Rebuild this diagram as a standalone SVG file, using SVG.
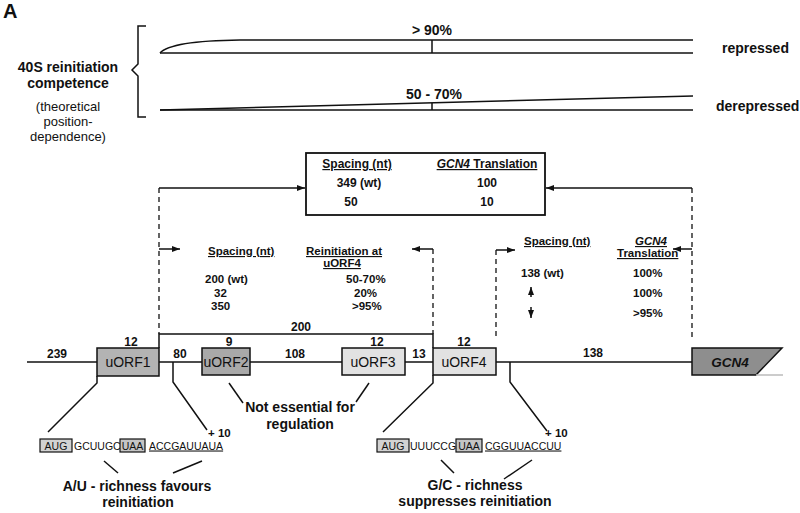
<svg xmlns="http://www.w3.org/2000/svg" width="800" height="513" viewBox="0 0 800 513">
<defs>
<style>
text{font-family:"Liberation Sans",Arial,sans-serif;fill:#111}
.b{font-weight:bold}
.u{text-decoration:underline}
.i{font-style:italic}
.ln{stroke:#111;stroke-width:1.5;fill:none}
.ds{stroke:#111;stroke-width:1.3;stroke-dasharray:5 4;fill:none}
.n12{font-size:12px;font-weight:bold}
.n11{font-size:11.5px;font-weight:bold}
.lbl{font-size:14px;font-weight:bold}
.orf{font-size:14px;text-anchor:middle}
.seq{font-size:10.5px}
.m{text-anchor:middle}
</style>
<marker id="ah" markerUnits="userSpaceOnUse" markerWidth="9" markerHeight="7" refX="8" refY="3" orient="auto">
<path d="M0,0 L8,3 L0,6 z" fill="#111"/>
</marker>
</defs>
<rect width="800" height="513" fill="#fff"/>
<text x="3" y="18" class="b" font-size="20">A</text>

<g id="competence">
<path class="ln" d="M146,26 L138,26 L138,64 L132,70 L138,76 L138,117 L146,117"/>
<text x="68" y="72" class="lbl m">40S reinitiation</text>
<text x="68" y="88" class="lbl m">competence</text>
<text x="68" y="111" font-size="13" class="m">(theoretical</text>
<text x="68" y="126" font-size="13" class="m">position-</text>
<text x="68" y="141" font-size="13" class="m">dependence)</text>
</g>

<g id="repressed">
<path class="ln" d="M160,53 C168,44 200,40.5 240,40 L693,40"/>
<path class="ln" d="M160,53 L693,53"/>
<path class="ln" d="M432,40 L432,53"/>
<text x="432" y="35" class="lbl m">&gt; 90%</text>
<text x="722" y="53" class="lbl">repressed</text>
</g>

<g id="derepressed">
<path class="ln" d="M160,110 L693,96"/>
<path class="ln" d="M160,110 L693,110"/>
<path class="ln" d="M432,103 L432,110"/>
<text x="434" y="99" class="lbl m">50 - 70%</text>
<text x="716" y="111" class="lbl">derepressed</text>
</g>

<g id="summary-box">
<rect x="306" y="153" width="239" height="62" fill="#fff" stroke="#111" stroke-width="1.8"/>
<text x="357" y="168" class="n12 m u">Spacing (nt)</text>
<text x="487" y="168" class="n12 m u"><tspan class="i">GCN4</tspan> Translation</text>
<text x="359" y="187" class="n12 m">349 (wt)</text>
<text x="487" y="187" class="n12 m">100</text>
<text x="351" y="206" class="n12 m">50</text>
<text x="487" y="206" class="n12 m">10</text>
</g>

<g id="table-uorf4">
<text x="208" y="255" class="n11 u">Spacing (nt)</text>
<text x="306" y="255" class="n11 u">Reinitiation at</text>
<text x="342" y="267" class="n11 u m">uORF4</text>
<text x="205" y="283" class="n11">200 (wt)</text>
<text x="214" y="297" class="n11">32</text>
<text x="211" y="310" class="n11">350</text>
<text x="346" y="283" class="n11">50-70%</text>
<text x="354" y="297" class="n11">20%</text>
<text x="352" y="310" class="n11">&gt;95%</text>
</g>

<g id="table-gcn4">
<text x="524" y="245" class="n11 u">Spacing (nt)</text>
<text x="651" y="245" class="n11 u i m">GCN4</text>
<text x="617" y="257" class="n11 u">Translation</text>
<text x="521" y="277" class="n11">138 (wt)</text>
<text x="633" y="277" class="n11">100%</text>
<text x="633" y="297" class="n11">100%</text>
<text x="633" y="317" class="n11">&gt;95%</text>
</g>

<g id="connectors">
<path class="ds" d="M159,188 L159,334"/>
<path class="ln" d="M159,188 L305,188" marker-end="url(#ah)"/>
<path class="ln" d="M159,249 L180,249" marker-end="url(#ah)"/>
<path class="ds" d="M433,249 L433,334"/>
<path class="ln" d="M433,249 L412,249" marker-end="url(#ah)"/>
<path class="ds" d="M692,188 L692,338"/>
<path class="ln" d="M692,188 L546,188" marker-end="url(#ah)"/>
<path class="ln" d="M692,249 L673,249" marker-end="url(#ah)"/>
<path class="ds" d="M496,250 L496,338"/>
<path class="ln" d="M496,250 L515,250" marker-end="url(#ah)"/>
<path class="ln" d="M531,297 L531,287" marker-end="url(#ah)"/>
<path class="ln" d="M531,307 L531,318" marker-end="url(#ah)"/>
<path class="ln" d="M159,348 L159,334 L433,334 L433,348"/>
<path class="ln" d="M27,362 L692,362"/>
<path class="ln" d="M97,376 L97,383 L48,432"/>
<path class="ln" d="M173,362 L173,382 L207,430"/>
<path class="ln" d="M229,383 L243,403"/>
<path class="ln" d="M369,383 L356,402"/>
<path class="ln" d="M433,375 L433,383 L383,432"/>
<path class="ln" d="M510,362 L510,382 L547,431"/>
<path class="ln" d="M104,461 L118,473"/>
<path class="ln" d="M202,461 L173,473"/>
<path class="ln" d="M441,460 L454,473"/>
<path class="ln" d="M532,460 L504,479"/>
</g>

<g id="labels-spacing">
<text x="301" y="331" class="n12 m">200</text>
<text x="57" y="358" class="n12 m">239</text>
<text x="180" y="358" class="n12 m">80</text>
<text x="295" y="358" class="n12 m">108</text>
<text x="419" y="358" class="n12 m">13</text>
<text x="593" y="357" class="n12 m">138</text>
</g>

<g id="uORF1">
<rect x="97" y="348" width="62" height="28" fill="#b3b3b3" stroke="#111" stroke-width="1.5"/>
<text x="128" y="367" class="orf">uORF1</text>
<text x="131" y="346" class="n12 m">12</text>
</g>
<g id="uORF2">
<rect x="202" y="348" width="48" height="27" fill="#a9a9a9" stroke="#111" stroke-width="1.5"/>
<text x="226" y="367" class="orf">uORF2</text>
<text x="229" y="346" class="n12 m">9</text>
</g>
<g id="uORF3">
<rect x="342" y="348" width="63" height="27" fill="#e2e2e2" stroke="#111" stroke-width="1.5"/>
<text x="373" y="367" class="orf">uORF3</text>
<text x="377" y="346" class="n12 m">12</text>
</g>
<g id="uORF4">
<rect x="433" y="348" width="63" height="27" fill="#e2e2e2" stroke="#111" stroke-width="1.5"/>
<text x="464" y="367" class="orf">uORF4</text>
<text x="464" y="346" class="n12 m">12</text>
</g>
<g id="GCN4">
<polygon points="692,348 782,348 756,375 692,375" fill="#8e8e8e" stroke="#111" stroke-width="1.5"/>
<path d="M756,375 L783,375" stroke="#bbb" stroke-width="1.5"/>
<text x="730" y="367" class="m b i" font-size="13.5">GCN4</text>
</g>

<g id="note-uorf23">
<text x="300" y="412" class="lbl m">Not essential for</text>
<text x="300" y="429" class="lbl m">regulation</text>
</g>

<g id="seq-uorf1">
<text x="208" y="437" class="b" font-size="11.5">+ 10</text>
<rect x="40" y="439" width="32" height="13" fill="#d2d2d2" stroke="#111" stroke-width="1.2"/>
<text x="56" y="449.5" class="seq m">AUG</text>
<text x="74" y="449.5" class="seq">GCUUGC</text>
<rect x="120" y="439" width="25" height="13" fill="#c4c4c4" stroke="#111" stroke-width="1.2"/>
<text x="132.5" y="449.5" class="seq m">UAA</text>
<text x="149" y="449.5" class="seq u">ACCGAUUAUA</text>
<text x="137" y="491" class="lbl m">A/U - richness favours</text>
<text x="138" y="507" class="lbl m">reinitiation</text>
</g>

<g id="seq-uorf4">
<text x="545" y="437" class="b" font-size="11.5">+ 10</text>
<rect x="377" y="439" width="32" height="13" fill="#d2d2d2" stroke="#111" stroke-width="1.2"/>
<text x="393" y="449.5" class="seq m">AUG</text>
<text x="410" y="449.5" class="seq">UUUCCG</text>
<rect x="456" y="439" width="26" height="13" fill="#c4c4c4" stroke="#111" stroke-width="1.2"/>
<text x="469" y="449.5" class="seq m">UAA</text>
<text x="485" y="449.5" class="seq u">CGGUUACCUU</text>
<text x="475" y="490" class="lbl m">G/C - richness</text>
<text x="475" y="506" class="lbl m">suppresses reinitiation</text>
</g>
</svg>
